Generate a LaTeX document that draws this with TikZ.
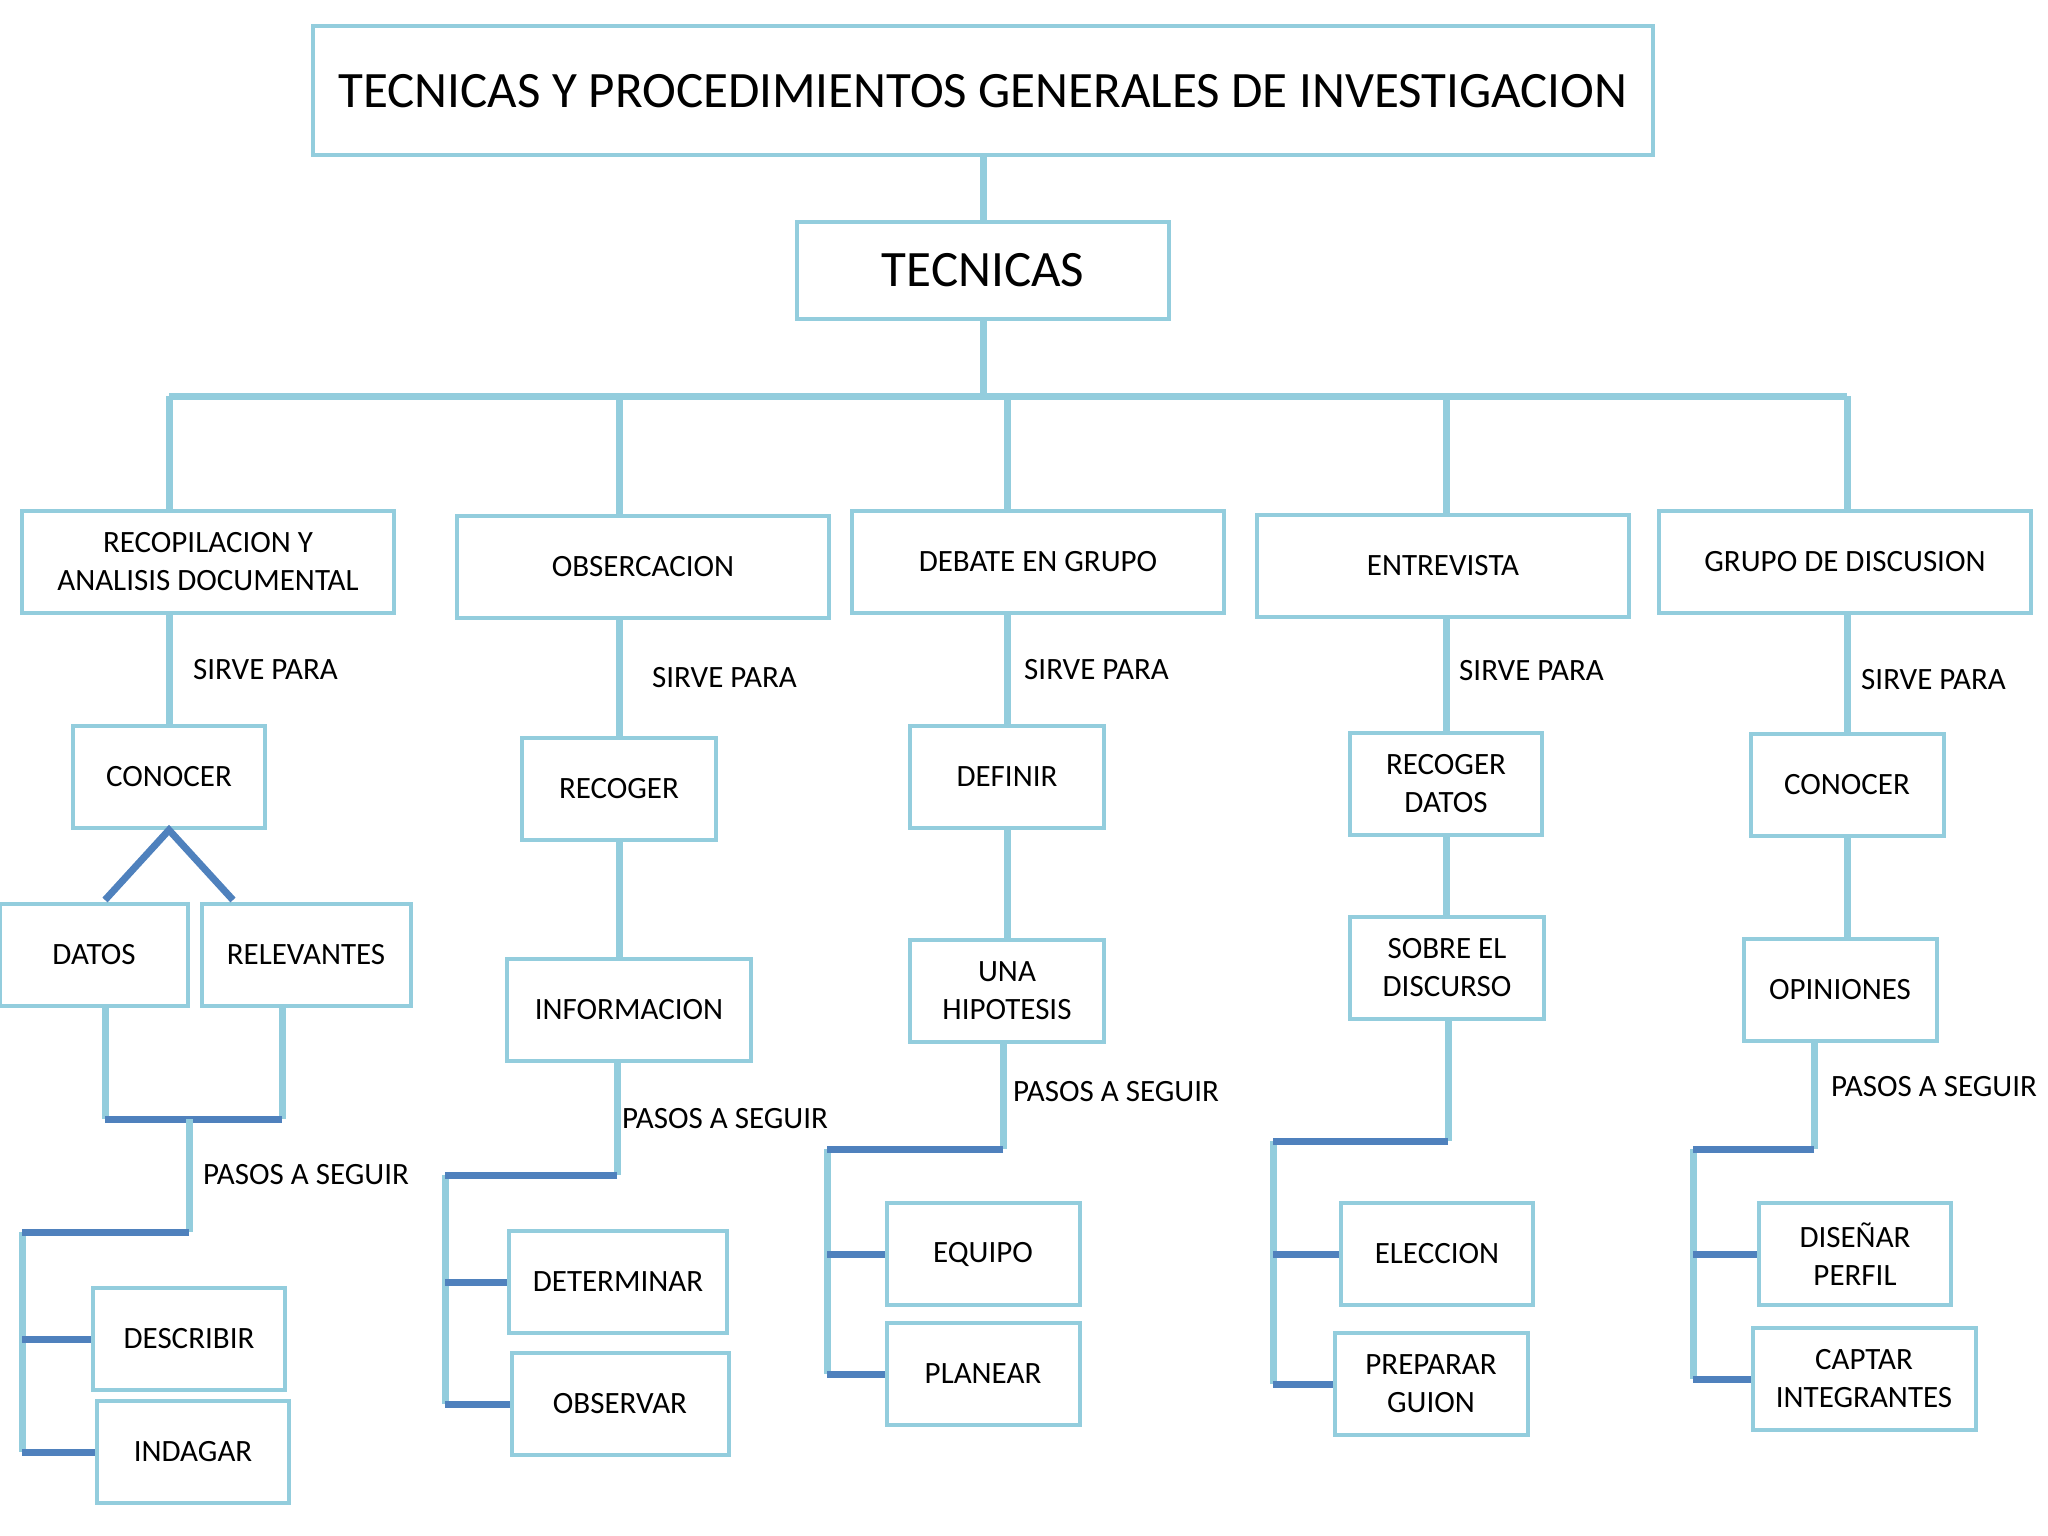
\documentclass[tikz,border=0pt]{standalone}
\usepackage{fontspec}
\setmainfont{Carlito}
\definecolor{lightblue}{HTML}{93CDDD}
\definecolor{darkblue}{HTML}{4F81BD}
\tikzstyle{box}=[draw=lightblue,line width=4pt,fill=white,minimum height=102pt,inner sep=0pt,align=center,font=\fontsize{31}{38}\selectfont]
\tikzstyle{head}=[box,minimum height=129pt,font=\fontsize{51}{61}\selectfont]
\tikzstyle{link}=[draw=lightblue,line width=7pt]
\tikzstyle{dark link}=[draw=darkblue,line width=7pt]
\tikzstyle{note}=[anchor=west,inner sep=0pt,font=\fontsize{31}{38}\selectfont]

\begin{document}
\begin{tikzpicture}[x=1pt,y=-1pt]
\path[fill=white,use as bounding box] (0,0) rectangle (2048,1536);

\node[head,minimum width=1340pt] (title) at (983,91) {TECNICAS Y PROCEDIMIENTOS GENERALES DE INVESTIGACION};
\node[head,minimum width=372pt,minimum height=97pt,font=\fontsize{51}{61}\selectfont] (tec) at (983,270) {TECNICAS};

\foreach \pos/\name/\w/\txt in {{(208,562)/rec/372/{RECOPILACION Y\\ANALISIS DOCUMENTAL}},
    {(643,567)/obs/372/OBSERCACION}, {(1038,562)/deb/372/DEBATE EN GRUPO},
    {(1443,566)/ent/372/ENTREVISTA}, {(1845,562)/gru/372/GRUPO DE DISCUSION},
    {(169,777)/con/192/CONOCER}, {(94,955)/dat/188/DATOS}, {(306,955)/rel/209/RELEVANTES},
    {(189,1339)/des/192/DESCRIBIR}, {(193,1452)/ind/192/INDAGAR},
    {(619,789)/rcg/194/RECOGER}, {(629,1010)/inf/244/INFORMACION},
    {(618,1282)/det/218/DETERMINAR}, {(620,1404)/obv/217/OBSERVAR},
    {(1007,777)/def/194/DEFINIR}, {(1007,991)/hip/194/{UNA\\HIPOTESIS}},
    {(983,1254)/equ/193/EQUIPO}, {(983,1374)/pla/193/PLANEAR},
    {(1446,784)/rda/192/{RECOGER\\DATOS}}, {(1447,968)/sob/194/{SOBRE EL\\DISCURSO}},
    {(1437,1254)/ele/192/ELECCION}, {(1431,1384)/pre/193/{PREPARAR\\GUION}},
    {(1847,785)/co5/193/CONOCER}, {(1840,990)/opi/193/OPINIONES},
    {(1855,1254)/dis/192/{DISEÑAR\\PERFIL}}, {(1864,1379)/cap/223/{CAPTAR\\INTEGRANTES}}}{
  \node[box,minimum width=\w pt] (\name) at \pos {\txt};
}

% trunk
\coordinate (barL) at (169,396);
\coordinate (barR) at (1847,396);
\path[link] (title.south) -- (tec.north);
\path[link] (tec.south) -- (tec.south |- barL);
\path[link] (barL) -- (barR);
\foreach \source/\dest in {rec/con, obs/rcg, deb/def, ent/rda, gru/co5}{
  \path[link] (\dest.north |- barL) -- (\dest.north |- \source.north);
  \path[link] (\dest.north |- \source.south) -- (\dest.north);
}
\foreach \source/\dest in {rcg/inf, def/hip, rda/sob, co5/opi}{
  \path[link] (\source.south) -- (\source.south |- \dest.north);
}

% datos / relevantes
\coordinate (datTop) at (105,900);
\coordinate (relTop) at (233,900);
\coordinate (datLeg) at (105,1119);
\coordinate (relLeg) at (282,1119);
\coordinate (legMid) at (189,1119);
\path[dark link] (datTop) -- (con.south) -- (relTop);
\path[link] (datLeg |- dat.south) -- (datLeg);
\path[link] (relLeg |- rel.south) -- (relLeg);
\path[dark link] (datLeg) -- (relLeg);

% pasos a seguir
\foreach \parent/\x/\y/\xl/\childA/\childB in {legMid/189/1232/22/des/ind,
    inf.south/617/1175/445/det/obv, hip.south/1003/1149/827/equ/pla,
    sob.south/1448/1141/1273/ele/pre, opi.south/1814/1149/1693/dis/cap}{
  \coordinate (knee) at (\x,\y);
  \coordinate (elbow) at (\xl,\y);
  \path[link] (\parent -| knee) -- (knee);
  \path[link] (elbow) -- (elbow |- \childB.west);
  \path[dark link] (knee) -- (elbow);
  \path[dark link] (elbow |- \childA.west) -- (\childA.west);
  \path[dark link] (elbow |- \childB.west) -- (\childB.west);
}

\foreach \pos/\name/\txt in {{(193,670)/sir1/SIRVE PARA}, {(652,678)/sir2/SIRVE PARA},
    {(1024,670)/sir3/SIRVE PARA}, {(1459,671)/sir4/SIRVE PARA}, {(1861,680)/sir5/SIRVE PARA},
    {(203,1175)/pas1/PASOS A SEGUIR}, {(622,1119)/pas2/PASOS A SEGUIR},
    {(1013,1092)/pas3/PASOS A SEGUIR}, {(1831,1087)/pas5/PASOS A SEGUIR}}{
  \node[note] (\name) at \pos {\txt};
}
\end{tikzpicture}
\end{document}
